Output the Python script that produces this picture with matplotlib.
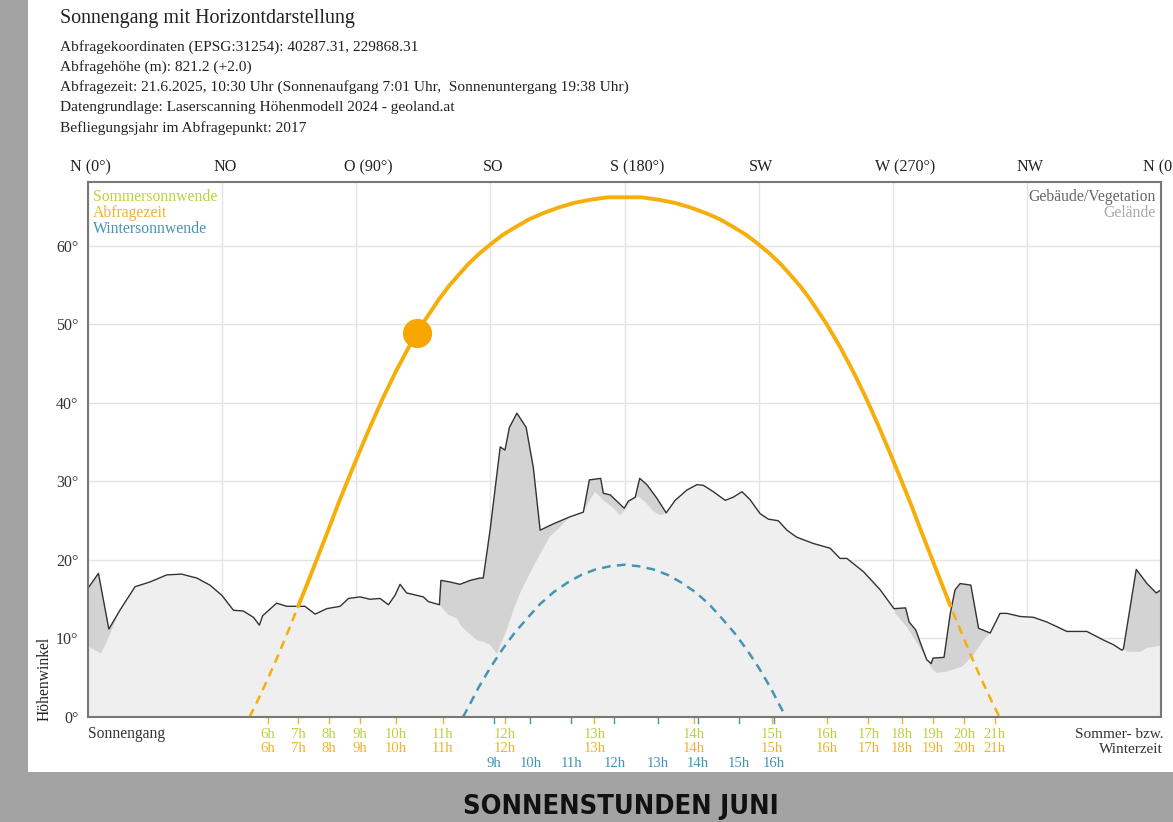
import numpy as np
import matplotlib.pyplot as plt
from matplotlib.patches import Rectangle

# horizon line (buildings/vegetation): azimuth in deg, elevation in deg
horizon_az = [0.0, 3.5, 7.0, 10.7, 15.8, 20.8, 26.4, 31.4, 36.5, 40.9, 44.9, 48.8, 52.1, 55.5,
              57.5, 58.6, 63.3, 66.7, 72.8, 76.2, 80.1, 84.6, 87.4, 91.3, 94.6, 98.0, 100.8,
              103.0, 104.7, 106.9, 110.3, 112.5, 114.2, 117.9, 118.4, 121.5, 124.8, 128.2,
              131.5, 132.6, 134.9, 138.3, 139.9, 141.4, 143.9, 147.0, 149.4, 151.7, 156.1,
              161.7, 166.2, 168.2, 172.0, 172.9, 175.2, 179.9, 181.3, 183.6, 185.1, 187.5,
              190.8, 194.0, 197.0, 200.9, 204.3, 206.5, 209.8, 213.8, 216.5, 219.4, 222.1,
              225.5, 228.3, 231.6, 234.5, 237.8, 243.4, 249.0, 252.3, 254.6, 260.2, 265.8,
              270.4, 274.3, 275.5, 277.7, 279.8, 281.4, 282.9, 283.5, 287.2, 289.3, 290.9,
              292.6, 296.2, 298.8, 302.7, 306.0, 308.3, 312.8, 317.2, 321.7, 325.1, 328.4,
              335.1, 340.7, 344.1, 346.9, 347.4, 351.7, 355.3, 358.4, 360.0]
horizon_alt = [16.4, 18.3, 11.2, 13.6, 16.6, 17.2, 18.1, 18.2, 17.7, 16.8, 15.5, 13.6, 13.5, 12.7,
               11.7, 12.9, 14.5, 14.1, 14.1, 13.1, 13.8, 14.1, 15.1, 15.3, 15.0, 15.1, 14.3,
               15.5, 16.9, 15.8, 15.5, 15.3, 14.7, 14.3, 17.4, 17.2, 16.9, 17.4,
               17.7, 17.7, 23.8, 34.4, 34.0, 36.9, 38.7, 36.9, 31.8, 23.8, 24.6,
               25.5, 26.1, 30.2, 30.4, 28.5, 28.3, 26.6, 27.5, 28.0, 30.4, 29.6,
               27.9, 26.0, 27.6, 28.9, 29.6, 29.5, 28.7, 27.6, 28.0, 28.7, 27.7,
               25.9, 25.2, 25.0, 23.8, 22.9, 22.1, 21.5, 20.2, 20.2, 18.5, 16.2,
               13.8, 13.9, 12.1, 11.1, 8.9, 7.3, 6.8, 7.5, 7.6, 13.2, 16.2,
               17.0, 16.8, 11.3, 10.7, 13.2, 13.2, 12.8, 12.7, 12.1, 11.5, 10.9,
               10.9, 9.8, 9.2, 8.5, 8.7, 18.8, 17.0, 15.8, 16.2]

# terrain line where it lies below the buildings/vegetation
terrain_segments = [
    ([0.0, 2.3, 4.4, 7.0, 10.7],
     [9.0, 8.5, 8.1, 10.2, 13.6]),
    ([117.9, 120.9, 123.7, 125.4, 127.1, 130.4, 132.6, 134.9, 137.2, 138.8, 140.5, 142.7,
      145.0, 147.2, 150.6, 155.0, 158.4, 161.7],
     [14.3, 13.0, 12.6, 11.5, 10.9, 9.8, 9.6, 9.2, 8.0, 9.6, 11.1, 13.6,
      15.8, 17.5, 20.0, 23.0, 24.2, 25.5]),
    ([166.2, 168.5, 170.1, 172.9, 176.3, 178.5, 180.2, 181.9, 184.7, 186.9, 189.7, 192.0, 194.0],
     [26.1, 27.7, 28.7, 27.6, 26.6, 25.7, 26.4, 27.4, 28.1, 27.4, 26.2, 25.7, 26.0]),
    ([270.4, 270.8, 274.7, 279.2, 283.1, 284.8, 288.1, 293.2, 297.1, 300.4, 302.7],
     [13.8, 13.2, 11.5, 8.8, 6.2, 5.6, 5.8, 6.4, 7.9, 9.8, 10.7]),
    ([347.4, 348.6, 353.1, 355.3, 360.0],
     [8.7, 8.3, 8.3, 8.8, 9.1]),
]

# sun path 21 June (Sommersonnwende / Abfragezeit)
summer_az = [54.2, 56.3, 59.9, 63.4, 66.8, 70.5, 73.6, 77.0, 80.4, 83.8, 87.3, 91.0, 94.8,
             98.8, 103.0, 107.6, 112.6, 118.1, 121.1, 124.3, 127.6, 131.2, 135.0, 139.1,
             143.4, 148.0, 152.8, 157.9, 163.2, 168.7, 174.3, 180.0,
             185.7, 191.3, 196.8, 202.1, 207.2, 212.0, 216.6, 220.9, 225.0, 228.8, 232.4,
             235.7, 238.9, 241.9, 247.4, 252.4, 257.0, 261.2, 265.2, 269.0, 272.7, 276.2,
             279.6, 283.0, 286.4, 289.3, 293.2, 296.6, 300.1, 303.7, 305.8]
summer_alt = [0.0, 1.6, 4.5, 7.5, 10.6, 14.1, 17.0, 20.3, 23.6, 27.0, 30.3, 33.7, 37.1,
              40.5, 43.8, 47.1, 50.3, 53.4, 54.9, 56.3, 57.7, 59.0, 60.2, 61.4,
              62.4, 63.4, 64.2, 64.9, 65.5, 65.9, 66.2, 66.2,
              66.2, 65.9, 65.5, 64.9, 64.2, 63.4, 62.4, 61.4, 60.2, 59.0, 57.7,
              56.3, 54.9, 53.4, 50.3, 47.1, 43.8, 40.5, 37.1, 33.7, 30.3, 27.0,
              23.6, 20.3, 17.0, 14.2, 10.6, 7.5, 4.5, 1.6, 0.0]

# sun path 21 December (Wintersonnwende)
winter_az = [125.8, 127.4, 131.1, 135.0, 139.0, 143.1, 147.4, 151.7, 156.2, 160.8, 165.5, 170.3,
             175.1, 180.0, 184.9, 189.7, 194.5, 199.2, 203.8, 208.3, 212.6, 216.9, 221.0,
             225.0, 228.9, 232.6, 234.2]
winter_alt = [0.0, 1.1, 3.8, 6.3, 8.6, 10.7, 12.6, 14.4, 15.9, 17.1, 18.1, 18.8,
              19.2, 19.4, 19.2, 18.8, 18.1, 17.1, 15.9, 14.4, 12.6, 10.7, 8.6,
              6.3, 3.8, 1.1, 0.0]

# sun at query time 10:30
query_az = 110.4
query_alt = 48.9

summer_hours = ['6h', '7h', '8h', '9h', '10h', '11h', '12h', '13h', '14h', '15h', '16h',
                '17h', '18h', '19h', '20h', '21h']
summer_hour_az = [60.4, 70.5, 80.7, 91.3, 103.4, 119.0, 139.9, 169.9, 203.2, 229.6, 247.9,
                  261.8, 273.0, 283.6, 293.9, 304.2]
winter_hours = ['9h', '10h', '11h', '12h', '13h', '14h', '15h', '16h']
winter_hour_az = [136.2, 148.4, 162.1, 176.6, 191.2, 204.5, 218.3, 230.0]

compass_labels = ['N (0°)', 'NO', 'O (90°)', 'SO', 'S (180°)', 'SW', 'W (270°)', 'NW', 'N (0°)']
compass_az = [0, 45, 90, 135, 180, 225, 270, 315, 360]

info_lines = [
    'Abfragekoordinaten (EPSG:31254): 40287.31, 229868.31',
    'Abfragehöhe (m): 821.2 (+2.0)',
    'Abfragezeit: 21.6.2025, 10:30 Uhr (Sonnenaufgang 7:01 Uhr,  Sonnenuntergang 19:38 Uhr)',
    'Datengrundlage: Laserscanning Höhenmodell 2024 - geoland.at',
    'Befliegungsjahr im Abfragepunkt: 2017',
]

GREEN = '#b9d23f'
ORANGE = '#f2b230'
TEAL = '#4494b4'
SUN = '#f5ae0a'

plt.rcParams['font.family'] = ['Liberation Serif', 'DejaVu Serif']


def draw_chart():
    fig = plt.figure(figsize=(11.73, 8.22), dpi=100, facecolor='#a3a3a3')
    fig.patches.append(Rectangle((28 / 1173, 1 - 772 / 822), 1 - 28 / 1173, 772 / 822,
                                 transform=fig.transFigure, facecolor='white',
                                 edgecolor='none', zorder=-5))

    fig.text(60 / 1173, 1 - 18 / 822, 'Sonnengang mit Horizontdarstellung',
             fontsize=14.4, color='#222', va='center')
    for i, line in enumerate(info_lines):
        fig.text(60 / 1173, 1 - (47 + 20.2 * i) / 822, line, fontsize=11.1, color='#222',
                 va='center')

    ax = fig.add_axes([88 / 1173, 1 - 717 / 822, 1073 / 1173, 535 / 822])
    ax.set_zorder(2)
    ax.set_xlim(0, 360)
    ax.set_ylim(0, 68.15)

    haz = np.array(horizon_az)
    halt = np.array(horizon_alt)

    # terrain + buildings/vegetation
    ax.fill_between(haz, 0, halt, color='#efefef', lw=0, zorder=1)
    for seg_az, seg_alt in terrain_segments:
        m = (haz >= seg_az[0]) & (haz <= seg_az[-1])
        px = list(haz[m]) + seg_az[::-1]
        py = list(halt[m]) + seg_alt[::-1]
        ax.fill(px, py, color='#d3d3d3', lw=0, zorder=2)
    ax.plot(haz, halt, color='#333', lw=1.0, zorder=3)

    # sun paths
    ax.plot(winter_az, winter_alt, color=TEAL, lw=1.8, ls=(0, (3.5, 2.5)), zorder=4)
    ax.plot(summer_az, summer_alt, color=SUN, lw=1.8, ls=(0, (3.5, 2.5)), zorder=4)
    saz = np.array(summer_az)
    salt = np.array(summer_alt)
    visible = salt >= np.interp(saz, haz, halt) - 0.2
    ax.plot(saz[visible], salt[visible], color=SUN, lw=2.8, zorder=5,
            solid_capstyle='round', solid_joinstyle='round')
    ax.plot(query_az, query_alt, 'o', color='#f7a600', ms=21, mec='none', zorder=6)

    # grid and frame
    ax.set_xticks(compass_az)
    ax.set_xticklabels([])
    ax.set_yticks([0, 10, 20, 30, 40, 50, 60])
    ax.set_yticklabels(['0°', '10°', '20°', '30°', '40°', '50°', '60°'], fontsize=11.5,
                       color='#333')
    ax.tick_params(length=0, pad=7)
    ax.grid(color='#e4e4e4', lw=1)
    ax.set_axisbelow(True)
    for sp in ax.spines.values():
        sp.set_color('#777')
        sp.set_linewidth(1.5)
        sp.set_zorder(7)

    tr = ax.get_xaxis_transform()
    for lab, az in zip(compass_labels, compass_az):
        shift = 4.2 if '(' in lab and not lab.startswith('N') else 0.9
        ax.text(az + shift, 1.028, lab, transform=tr, ha='center', va='center',
                fontsize=11.6, color='#222', clip_on=False)

    ax.text(0.0047, 0.972, 'Sommersonnwende', transform=ax.transAxes, color=GREEN,
            fontsize=11.3, va='center')
    ax.text(0.0047, 0.942, 'Abfragezeit', transform=ax.transAxes, color=ORANGE,
            fontsize=11.3, va='center')
    ax.text(0.0047, 0.912, 'Wintersonnwende', transform=ax.transAxes, color=TEAL,
            fontsize=11.3, va='center')
    ax.text(0.9955, 0.972, 'Gebäude/Vegetation', transform=ax.transAxes, color='#666',
            fontsize=11.3, va='center', ha='right')
    ax.text(0.9955, 0.942, 'Gelände', transform=ax.transAxes, color='#aaa',
            fontsize=11.3, va='center', ha='right')

    # hour ticks and labels
    for az in winter_hour_az:
        ax.plot([az, az], [0, -0.012], transform=tr, color=TEAL, lw=1, clip_on=False)
    for az in summer_hour_az:
        ax.plot([az, az], [0, -0.012], transform=tr, color=ORANGE, lw=1, clip_on=False)
    for lab, az in zip(summer_hours, summer_hour_az):
        ax.text(az, -0.032, lab, transform=tr, ha='center', va='center', fontsize=10.6,
                color=GREEN)
        ax.text(az, -0.058, lab, transform=tr, ha='center', va='center', fontsize=10.6,
                color=ORANGE)
    for lab, az in zip(winter_hours, winter_hour_az):
        ax.text(az, -0.087, lab, transform=tr, ha='center', va='center', fontsize=10.6,
                color=TEAL)

    ax.text(0, -0.032, 'Sonnengang', transform=ax.transAxes, ha='left', va='center',
            fontsize=11.2, color='#333')
    ax.text(1.002, -0.032, 'Sommer- bzw.', transform=ax.transAxes, ha='right', va='center',
            fontsize=11, color='#333')
    ax.text(1.002, -0.060, 'Winterzeit', transform=ax.transAxes, ha='right', va='center',
            fontsize=11, color='#333')

    fig.text(45 / 1173, 1 - 679 / 822, 'Höhenwinkel', rotation=90, ha='center',
             va='center', fontsize=11.2, color='#222')

    fig.text(621 / 1173, 1 - 807 / 822, 'SONNENSTUNDEN JUNI', ha='center', va='center',
             fontsize=19.5, fontweight='bold', fontstretch='condensed', color='#111',
             family=['DejaVu Sans'])

    fig.savefig('out.png', dpi=100, facecolor=fig.get_facecolor())


if __name__ == '__main__':
    draw_chart()
